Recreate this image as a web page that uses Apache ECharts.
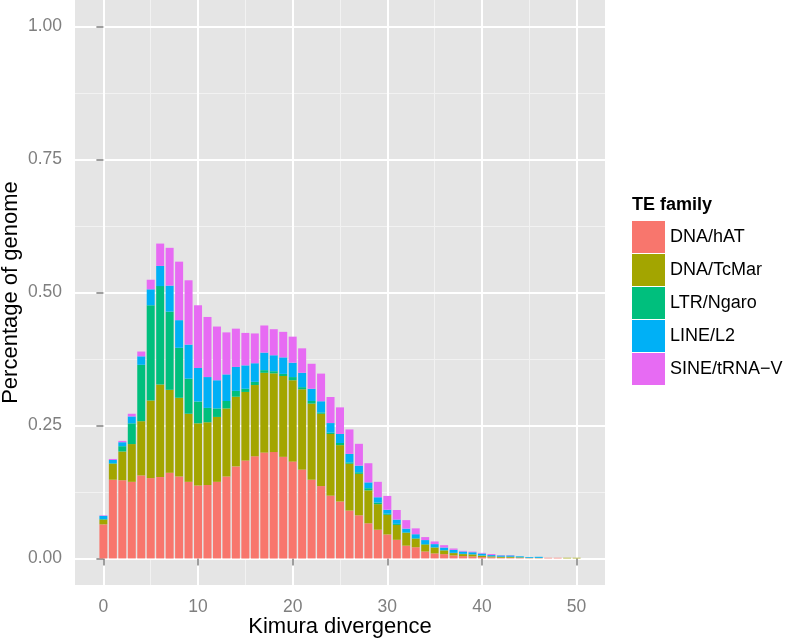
<!DOCTYPE html>
<html>
<head>
<meta charset="utf-8">
<script src="https://cdn.jsdelivr.net/npm/echarts@6/dist/echarts.min.js"></script>
<style>
  html, body { margin: 0; padding: 0; background: #fff; }
  #chart { width: 787px; height: 639px; }
</style>
</head>
<body>
<div id="chart"></div>
<script>
// Kimura divergence bins (x) and stacked percentages per TE family
var divergence = [0, 1, 2, 3, 4, 5, 6, 7, 8, 9, 10, 11, 12, 13, 14, 15, 16, 17, 18, 19, 20,
    21, 22, 23, 24, 25, 26, 27, 28, 29, 30, 31, 32, 33, 34, 35, 36, 37, 38, 39, 40,
    41, 42, 43, 44, 45, 46, 47, 48, 49, 50];

var families = ['DNA/hAT', 'DNA/TcMar', 'LTR/Ngaro', 'LINE/L2', 'SINE/tRNA\u2212V'];
var colors = ['#F8766D', '#A3A500', '#00BF7D', '#00B0F6', '#E76BF3'];

var dnaHat = [0.064, 0.148, 0.147, 0.144, 0.156, 0.151, 0.153, 0.161, 0.154, 0.144, 0.137,
    0.138, 0.144, 0.154, 0.173, 0.184, 0.192, 0.199, 0.200, 0.191, 0.182,
    0.167, 0.148, 0.136, 0.118, 0.107, 0.090, 0.081, 0.066, 0.054, 0.045,
    0.035, 0.024, 0.021, 0.013, 0.0094, 0.008, 0.0056, 0.0044, 0.0037, 0.0025,
    0.0019, 0.0012, 0.0012, 0.0008, 0.0005, 0.0005, 0.0012, 0.0012, 0, 0];

var dnaTcMar = [0.009, 0.030, 0.054, 0.071, 0.102, 0.146, 0.174, 0.156, 0.148, 0.128, 0.117,
    0.118, 0.122, 0.128, 0.131, 0.129, 0.134, 0.150, 0.148, 0.152, 0.153,
    0.151, 0.143, 0.136, 0.116, 0.106, 0.088, 0.078, 0.062, 0.048, 0.037,
    0.028, 0.024, 0.016, 0.013, 0.011, 0.007, 0.0044, 0.0037, 0.0037, 0.0025,
    0.0019, 0.0019, 0.0019, 0.0012, 0.0005, 0.0005, 0, 0, 0.0012, 0.0012];

var ltrNgaro = [0.001, 0.001, 0.010, 0.039, 0.106, 0.179, 0.185, 0.147, 0.094, 0.066, 0.041,
    0.027, 0.016, 0.014, 0.011, 0.006, 0.006, 0.005, 0.004, 0.004, 0.006,
    0.004, 0.005, 0.0025, 0.0025, 0.004, 0.0025, 0.003, 0.004, 0.003, 0.002,
    0.002, 0.001, 0.001, 0.001, 0.0005, 0.0005, 0.0005, 0.0005, 0.0005, 0.0005,
    0, 0, 0, 0, 0, 0, 0, 0, 0, 0];

var lineL2 = [0.006, 0.006, 0.0075, 0.013, 0.016, 0.030, 0.038, 0.049, 0.052, 0.064, 0.063,
    0.058, 0.053, 0.050, 0.045, 0.044, 0.035, 0.033, 0.030, 0.031, 0.027,
    0.027, 0.023, 0.021, 0.018, 0.017, 0.016, 0.0125, 0.011, 0.010, 0.0075,
    0.008, 0.007, 0.0075, 0.0075, 0.006, 0.005, 0.0056, 0.0044, 0.0037, 0.0037,
    0.0025, 0.0025, 0.0025, 0.0019, 0.0015, 0.002, 0, 0, 0, 0];

var sineTrnaV = [0.001, 0.002, 0.0025, 0.005, 0.009, 0.018, 0.042, 0.071, 0.110, 0.121, 0.118,
    0.113, 0.101, 0.079, 0.072, 0.061, 0.056, 0.051, 0.049, 0.048, 0.049,
    0.046, 0.047, 0.052, 0.049, 0.050, 0.046, 0.041, 0.036, 0.029, 0.026,
    0.018, 0.016, 0.011, 0.0056, 0.005, 0.0044, 0.0025, 0.0012, 0.0012, 0.0012,
    0.0019, 0.0006, 0.0006, 0, 0, 0, 0, 0, 0, 0];

var xTicks = [0, 10, 20, 30, 40, 50];
var xMinor = [5, 15, 25, 35, 45];
var yTicks = [0, 0.25, 0.5, 0.75, 1];
var yMinor = [0.125, 0.375, 0.625, 0.875];

var allValues = [dnaHat, dnaTcMar, ltrNgaro, lineL2, sineTrnaV];

var font = '"Liberation Sans", Arial, sans-serif';
var myChart = echarts.init(document.getElementById('chart'));

// value first in each item so that the stack is applied to the percentage dimension
var series = families.map(function (name, k) {
    return {
        name: name,
        type: 'bar',
        stack: 'te',
        xAxisIndex: 0,
        yAxisIndex: 0,
        barWidth: 8,
        z: 2,
        encode: { x: 1, y: 0 },
        itemStyle: { color: colors[k] },
        emphasis: { disabled: true },
        data: divergence.map(function (x, i) { return [allValues[k][i], x]; })
    };
});

option = {
    animation: false,
    textStyle: { fontFamily: font },
    title: {
        text: 'TE family',
        left: 632,
        top: 196,
        padding: 0,
        textStyle: { fontSize: 18, fontWeight: 'bold', color: '#000', fontFamily: font }
    },
    legend: {
        orient: 'vertical',
        left: 632,
        top: 221,
        padding: 0,
        itemWidth: 33,
        itemHeight: 32,
        itemGap: 1,
        icon: 'rect',
        selectedMode: false,
        textStyle: { fontSize: 18, color: '#000', fontFamily: font },
        data: families
    },
    grid: {
        left: 75,
        right: 182,
        top: 0,
        bottom: 54,
        outerBoundsMode: 'none',
        containLabel: false,
        show: true,
        backgroundColor: '#E5E5E5',
        borderWidth: 0
    },
    xAxis: [{
        type: 'value',
        min: -3,
        max: 53,
        z: 1,
        name: 'Kimura divergence',
        nameLocation: 'middle',
        nameGap: 31,
        nameMoveOverlap: false,
        nameTextStyle: { fontSize: 22, color: '#000', fontFamily: font },
        axisLine: { show: false },
        axisTick: { show: true, length: 7, customValues: xTicks, lineStyle: { color: '#7F7F7F', width: 1.5 } },
        axisLabel: { customValues: xTicks, margin: 13, fontSize: 17.5, color: '#7F7F7F', fontFamily: font },
        splitLine: { show: true, lineStyle: { color: '#FFFFFF', width: 2 } }
    }, {
        type: 'value',
        min: -3,
        max: 53,
        z: 0,
        axisLine: { show: false },
        axisTick: { show: false, customValues: xMinor },
        axisLabel: { show: false, customValues: xMinor },
        splitLine: { show: true, lineStyle: { color: '#F2F2F2', width: 1 } }
    }],
    yAxis: [{
        type: 'value',
        min: -0.05,
        max: 1.05,
        z: 1,
        name: 'Percentage of genome',
        nameLocation: 'middle',
        nameRotate: 90,
        nameGap: 53,
        nameMoveOverlap: false,
        nameTextStyle: { fontSize: 22, color: '#000', fontFamily: font },
        axisLine: { show: false },
        axisTick: { show: true, length: 7, customValues: yTicks, lineStyle: { color: '#7F7F7F', width: 1.5 } },
        axisLabel: {
            customValues: yTicks,
            margin: 13,
            fontSize: 17.5,
            color: '#7F7F7F',
            fontFamily: font,
            formatter: function (v) { return v.toFixed(2); }
        },
        splitLine: { show: true, lineStyle: { color: '#FFFFFF', width: 2 } }
    }, {
        type: 'value',
        min: -0.05,
        max: 1.05,
        position: 'left',
        z: 0,
        axisLine: { show: false },
        axisTick: { show: false, customValues: yMinor },
        axisLabel: { show: false, customValues: yMinor },
        splitLine: { show: true, lineStyle: { color: '#F2F2F2', width: 1 } }
    }],
    series: series
};
myChart.setOption(option);
</script>
</body>
</html>
